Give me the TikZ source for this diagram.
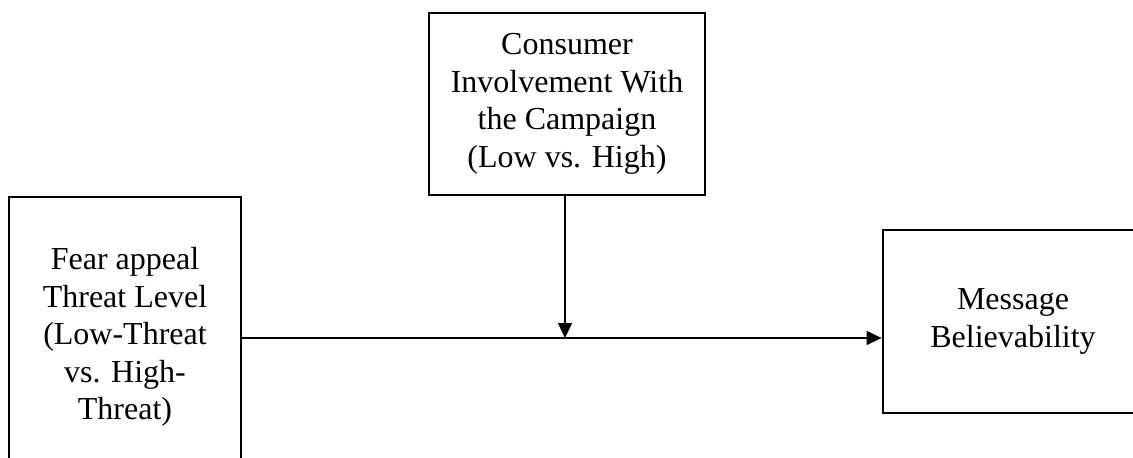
\documentclass[tikz,border=0pt]{standalone}
\usepackage{fontspec}
\setmainfont{Liberation Serif}
\usetikzlibrary{arrows.meta}
\tikzset{
  varbox/.style={draw=black, line width=2.8pt, inner sep=0pt, align=center,
    font=\fontsize{32}{37.5}\selectfont},
  link/.style={line width=1.2pt, -{Triangle[length=15pt,width=14pt]}}
}
\begin{document}
\begin{tikzpicture}[x=1pt, y=-1pt]
  \useasboundingbox (0,0) rectangle (1133,458);
  \clip (0,0) rectangle (1133,458);
  % independent variable
  \node[varbox, minimum width=232pt, minimum height=280pt] (fear) at (125,337)
    {Fear appeal\\Threat Level\\(Low-Threat\\vs. High-\\Threat)};
  % moderator
  \node[varbox, minimum width=276pt, minimum height=182pt] (inv) at (567,104)
    {Consumer\\Involvement With\\the Campaign\\(Low vs. High)};
  % dependent variable
  \node[varbox, minimum width=260pt, minimum height=183pt] (msg) at (1013,321.5)
    {Message\\Believability};
  % point where the moderator acts on the main path
  \coordinate (j) at (565,338);
  \draw[link] (fear.east |- j) -- (msg.west |- j);
  \draw[link] (inv.south -| j) -- (j);
\end{tikzpicture}
\end{document}
